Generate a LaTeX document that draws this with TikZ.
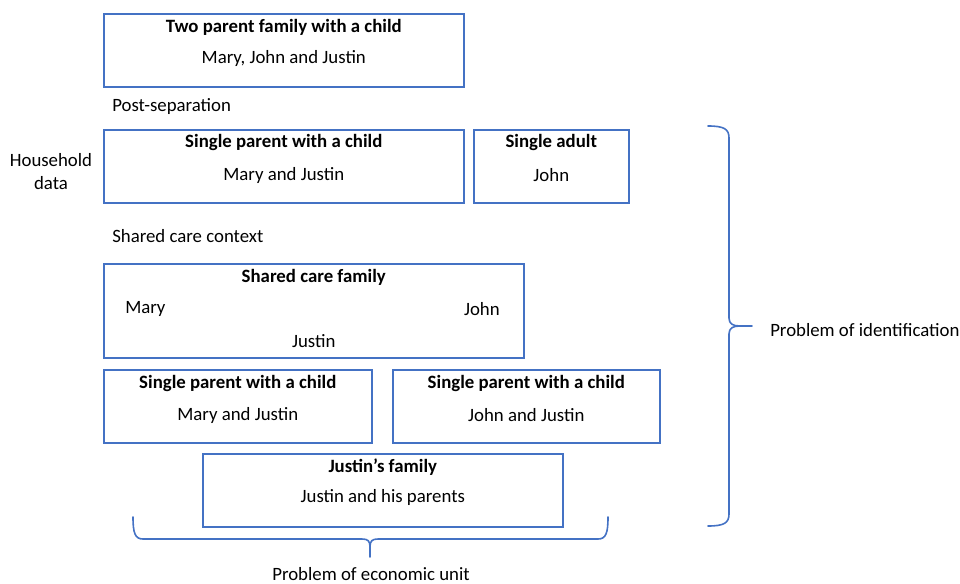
\documentclass[tikz,border=0pt]{standalone}
\usepackage{fontspec}
\setmainfont{Carlito}
\usetikzlibrary{positioning}
\definecolor{boxblue}{HTML}{4472C4}

\begin{document}
\begin{tikzpicture}[x=0.75pt,y=-0.75pt,font=\fontsize{14.1}{17.25}\selectfont]
    \tikzset{box/.style={draw=boxblue,line width=1.2pt,anchor=north west,inner sep=0pt,minimum height=54.75pt},
             title/.style={font=\fontsize{14.1}{17.25}\selectfont\bfseries,inner sep=0pt},
             member/.style={inner sep=0pt},
             remark/.style={inner sep=0pt,anchor=west},
             brace line/.style={draw=boxblue,line width=1.2pt,line cap=round,line join=round}}
    \useasboundingbox (0,0) rectangle (960,584);

    % boxes
    \node[box,minimum width=270pt]    (twoparent) at (103,13)  {};
    \node[box,minimum width=270pt]    (maryhh)    at (103,129) {};
    \node[box,minimum width=116.25pt] (johnhh)    at (473,129) {};
    \node[box,minimum width=315pt,minimum height=70.5pt] (shared) at (103,263) {};
    \node[box,minimum width=201pt]    (marysp)    at (103,369) {};
    \node[box,minimum width=200.25pt] (johnsp)    at (392,369) {};
    \node[box,minimum width=270pt]    (justinfam) at (202,453) {};

    % texts in the boxes
    \node[title]  (twoparenttitle) at ([yshift=-10.5pt]twoparent.north) {Two parent family with a child};
    \node[member] (twoparentwho)   at ([yshift=-33.75pt]twoparent.north) {Mary, John and Justin};
    \node[title]  (maryhhtitle)    at ([yshift=-10.5pt]maryhh.north) {Single parent with a child};
    \node[member] (maryhhwho)      at ([yshift=-34.5pt]maryhh.north) {Mary and Justin};
    \node[title]  (johnhhtitle)    at ([yshift=-10.5pt]johnhh.north) {Single adult};
    \node[member] (johnhhwho)      at ([yshift=-34.5pt]johnhh.north) {John};
    \node[title]  (sharedtitle)    at ([yshift=-10.5pt]shared.north) {Shared care family};
    \node[member,anchor=west] (sharedmary) at (125,309) {Mary};
    \node[member,anchor=east] (sharedjohn) at (500,309) {John};
    \node[member] (sharedjustin)   at ([yshift=-58.5pt]shared.north) {Justin};
    \node[title]  (maryspttitle)   at ([yshift=-10.5pt]marysp.north) {Single parent with a child};
    \node[member] (maryspwho)      at ([yshift=-34.5pt]marysp.north) {Mary and Justin};
    \node[title]  (johnsptitle)    at ([yshift=-10.5pt]johnsp.north) {Single parent with a child};
    \node[member] (johnspwho)      at ([yshift=-34.5pt]johnsp.north) {John and Justin};
    \node[title]  (justintitle)    at ([yshift=-10.5pt]justinfam.north) {Justin’s family};
    \node[member] (justinwho)      at ([yshift=-33pt]justinfam.north) {Justin and his parents};

    % side remarks
    \node[remark] (postsep)   at (112,107) {Post-separation};
    \node[remark] (sharedctx) at (112,236) {Shared care context};
    \node[member,align=center] (household) at (51,171.5) {Household\\data};

    % braces
    \coordinate (idtip)   at (752,326);
    \coordinate (econtip) at (370,557);
    \path[brace line] (708,126) .. controls (724,126) and (729,129) .. (729,138) -- (729,318)
        .. controls (729,324) and (733,326) .. (740,326) -- (idtip)
        (740,326) .. controls (733,326) and (729,328) .. (729,334) -- (729,514)
        .. controls (729,523) and (724,526) .. (708,526);
    \path[brace line] (133,517) .. controls (133,533) and (135,539) .. (143,539) -- (362,539)
        .. controls (368,539) and (370,541) .. (370,547) -- (econtip)
        (370,547) .. controls (370,541) and (372,539) .. (378,539) -- (598,539)
        .. controls (606,539) and (608,533) .. (608,517);
    \node[remark,right=13.5pt of idtip,yshift=-3pt] (identification) {Problem of identification};
    \node[member] (econunit) at (371,574) {Problem of economic unit};
\end{tikzpicture}
\end{document}
